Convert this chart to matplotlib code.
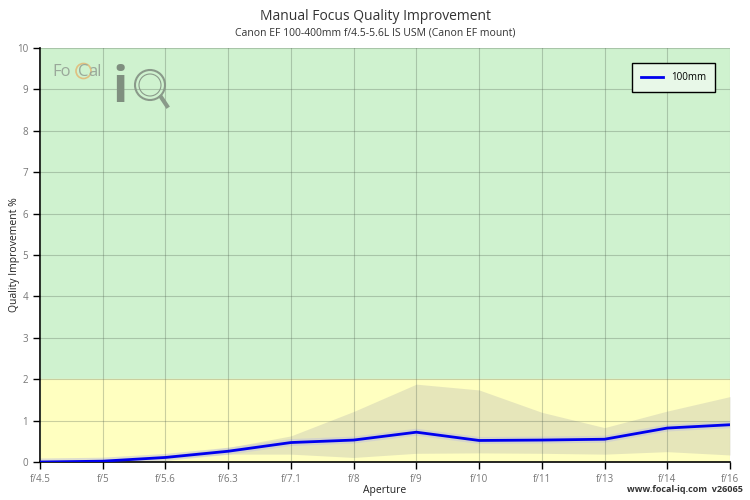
import numpy as np
import matplotlib.pyplot as plt
from matplotlib.patches import Ellipse
from matplotlib.lines import Line2D

plt.rcParams['font.family'] = ['Open Sans', 'DejaVu Sans']

# data
apertures = ['f/4.5', 'f/5', 'f/5.6', 'f/6.3', 'f/7.1', 'f/8', 'f/9',
             'f/10', 'f/11', 'f/13', 'f/14', 'f/16']
improvement = [0.0, 0.02, 0.11, 0.26, 0.47, 0.53, 0.72, 0.52, 0.53, 0.55, 0.82, 0.90]
band_upper = [0.0, 0.03, 0.15, 0.35, 0.63, 1.22, 1.88, 1.74, 1.20, 0.83, 1.23, 1.58]
band_lower = [0.0, 0.0, 0.08, 0.19, 0.19, 0.11, 0.21, 0.22, 0.21, 0.19, 0.25, 0.17]
green_from = 2

x = np.arange(len(apertures))

fig = plt.figure(figsize=(7.5, 5), dpi=100)
ax = fig.add_axes([40 / 750, 38 / 500, 690 / 750, 414 / 500])

# background zones
ax.axhspan(green_from, 10, color='#cff2cf', zorder=0)
ax.axhspan(0, green_from, color='#ffffc0', zorder=0)

ax.fill_between(x, band_lower, band_upper, color='#c8c8b4', alpha=0.45,
                linewidth=0, zorder=1)
ax.plot(x, improvement, color='#c8c8d8', linewidth=5, alpha=0.6, zorder=2)
ax.plot(x, improvement, color='#0000ee', linewidth=2, label='100mm', zorder=3)

ax.set_xlim(0, len(apertures) - 1)
ax.set_ylim(0, 10)
ax.set_xticks(x)
ax.set_xticklabels(apertures)
ax.set_yticks(range(0, 11))
ax.grid(True, color='#506050', alpha=0.3, linewidth=0.8)
ax.set_axisbelow(False)
for s in ['top', 'right']:
    ax.spines[s].set_visible(False)
ax.spines['left'].set_linewidth(1.2)
ax.spines['bottom'].set_linewidth(1.2)
ax.tick_params(axis='both', labelsize=7, labelcolor='#777777', length=5, width=1)
ax.tick_params(axis='x', pad=4)

fig.text(385 / 750, 1 - 490 / 500, 'Aperture', ha='center', va='center',
         fontsize=7.5, color='#222222')
fig.text(14 / 750, 1 - 255 / 500, 'Quality Improvement %', ha='center',
         va='center', rotation=90, fontsize=7.5, color='#222222')

fig.text(0.5, 0.968, 'Manual Focus Quality Improvement', ha='center', va='center',
         fontsize=10, color='#333333')
fig.text(0.5, 0.934, 'Canon EF 100-400mm f/4.5-5.6L IS USM (Canon EF mount)',
         ha='center', va='center', fontsize=7.5, color='#333333')
fig.text(0.99, 0.012, 'www.focal-iq.com  v26065', ha='right', va='bottom',
         fontsize=6.5, fontweight='bold', color='#333333')

leg = ax.legend(loc='upper right', bbox_to_anchor=(0.985, 0.975), fontsize=7,
                handlelength=2.3, borderpad=0.9, fancybox=False, framealpha=1,
                edgecolor='black', facecolor='#e8f8e8')
leg.get_frame().set_linewidth(1)

# logo
logo = '#9aa89a'


def fig_circle(cx, cy, r, **kw):
    # circle given in pixels from top-left
    fig.add_artist(Ellipse((cx / 750, 1 - cy / 500), 2 * r / 750, 2 * r / 500,
                           transform=fig.transFigure, fill=False, **kw))


fig.text(52 / 750, 1 - 72 / 500, 'Fo', fontsize=12, color=logo, va='center')
fig.text(78 / 750, 1 - 72 / 500, 'C', fontsize=12, color=logo, va='center')
fig.text(88 / 750, 1 - 72 / 500, 'al', fontsize=12, color=logo, va='center')
fig_circle(83.5, 71, 7.5, edgecolor='#e0c080', linewidth=1.2)
fig.text(112 / 750, 1 - 89 / 500, 'i', fontsize=36, fontweight='bold',
         color='#7f8f7f', va='center')
fig_circle(150, 85, 15, edgecolor='#8a9a8a', linewidth=1.5)
fig_circle(150, 85, 11, edgecolor='#8a9a8a', linewidth=0.8)
fig.add_artist(Line2D([161 / 750, 167 / 750], [1 - 97 / 500, 1 - 106 / 500],
                      transform=fig.transFigure, color='#8a9a8a', linewidth=3))

fig.savefig('out.png', dpi=100)
